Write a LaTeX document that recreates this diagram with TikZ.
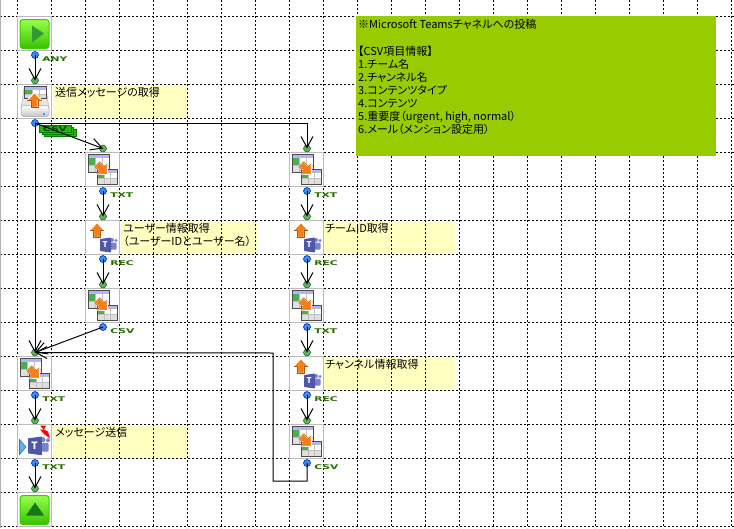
\documentclass[tikz,border=0pt]{standalone}
\usepackage{fontspec}
\setmainfont[RawFeature=+palt]{Noto Sans CJK JP}
\newfontfamily\tagfont{DejaVu Sans}
\usetikzlibrary{arrows.meta}
\definecolor{notey}{HTML}{FFFFC0}
\definecolor{noteg}{HTML}{99CC00}
\definecolor{taggreen}{HTML}{2A6A00}
\definecolor{frameg}{HTML}{BBBBBB}
\definecolor{orng}{HTML}{F57F17}
\definecolor{tpurple}{HTML}{4F57A8}
\definecolor{tlight}{HTML}{7B83C8}
\newcommand{\uparr}[3]{% x y rotation
  \filldraw[fill=orng,draw=white,line width=.9pt,line join=round,shift={(#1,#2)},rotate=#3,scale=1.12]
    (0,-7)--(6.5,0)--(3,0)--(3,6)--(-3,6)--(-3,0)--(-6.5,0)--cycle;
  \draw[orng!70!black,line width=.4pt,shift={(#1,#2)},rotate=#3,scale=1.12]
    (6.5,0)--(3,0)--(3,6)--(-3,6)--(-3,0)--(-6.5,0);}
\newcommand{\tbl}[4]{% x y w h
  \begin{scope}[shift={(#1,#2)}]
    \fill[white] (0,0) rectangle (#3,#4);
    \fill[green!55!black!70] (0,3) rectangle (.35*#3,.6*#4);
    \fill[blue!30] (0,0) rectangle (#3,3);
    \fill[gray!25] (0,.6*#4) rectangle (#3,#4);
    \draw[gray!50,line width=.35pt] (.35*#3,3)--(.35*#3,#4) (.68*#3,3)--(.68*#3,#4) (0,.6*#4)--(#3,.6*#4) (0,3)--(#3,3);
    \draw[gray!60!black,line width=1pt] (0,0) rectangle (#3,#4);
  \end{scope}}
\newcommand{\teamslogo}[3]{% x y scale
  \begin{scope}[shift={(#1,#2)},scale=#3]
    \fill[tlight,rounded corners=1pt] (8,5) rectangle (16.5,12);
    \fill[tlight] (12,2.5) circle (2) (16,3) circle (1.6);
    \fill[tpurple,rounded corners=.6pt] (0,1.5) -- (11,0) -- (11,15) -- (0,13.5) -- cycle;
    \node[text=white,font=\fontsize{8}{8}\selectfont\bfseries,inner sep=0pt,transform shape] at (5.3,7.5) {T};
  \end{scope}}
\tikzset{
  gridline/.style={black,line width=1pt,dash pattern=on 2pt off 2pt},
  cell/.style={draw=frameg,fill=white,line width=.8pt,minimum size=34pt,inner sep=0pt,outer sep=0pt},
  note/.style={fill=notey,anchor=north west,inner sep=0pt,minimum height=34pt},
  notetext/.style={anchor=north west,inner sep=0pt,align=left,font=\fontsize{11}{13}\selectfont},
  outport/.style={circle,draw=blue!55!black,fill=blue!55!cyan!80,line width=.5pt,minimum size=7pt,inner sep=0pt},
  inport/.style={circle,draw=green!40!black,fill=green!45!black!60,line width=.5pt,minimum size=7pt,inner sep=0pt},
  tagl/.style={anchor=west,inner sep=0pt,text=taggreen,font=\tagfont\fontsize{6.5}{7}\selectfont\bfseries,xscale=1.65},
  edge/.style={black,line width=1pt,-{Straight Barb[length=11pt,width=12pt,line width=1pt]}},
  pics/starticon/.style={code={
    \shade[top color=green!45!lime!70,bottom color=green!65!black!70!lime,draw=green!70!black!70!lime,line width=1pt,rounded corners=3pt] (3,3) rectangle (32,32);
    \fill[green!50!black!80] (15,9)--(27,17)--(15,26)--cycle;}},
  pics/endicon/.style={code={
    \shade[top color=green!45!lime!70,bottom color=green!65!black!70!lime,draw=green!70!black!70!lime,line width=1pt,rounded corners=3pt] (3,3) rectangle (32,32);
    \fill[green!40!black!90] (9,23)--(18,10)--(27,23)--cycle;}},
  pics/geticon/.style={code={
    \filldraw[fill=gray!20,draw=gray!60,line width=.5pt] (7,4)--(4,24)--(32,24)--(29,4)--cycle;
    \shade[top color=white,bottom color=gray!45,draw=gray!70,line width=.5pt,rounded corners=3pt] (4,21) rectangle (32,32);
    \fill[cyan] (26,28) rectangle (28,30);
    \tbl{7}{2}{22}{12}
    \uparr{17.5}{16}{0}}},
  pics/convicon/.style={code={
    \tbl{3}{2}{21}{18}
    \tbl{12}{17}{20}{15}
    \uparr{17}{16.5}{-135}}},
  pics/teamsget/.style={code={
    \uparr{12}{10}{0}
    \teamslogo{15}{17}{1}}},
  pics/teamssend/.style={code={
    \filldraw[fill=cyan!70!blue!60,draw=blue!50!cyan,line width=.6pt] (2.5,15)--(9,22.5)--(2.5,30)--cycle;
    \fill[red] (23,1)--(29,1)--(27,5)--(31,7)--(33,14)--(27,9.5)--(23,5)--(26.5,5)--cycle;
    \teamslogo{11}{12}{1.25}}}
}
\begin{document}
\begin{tikzpicture}[x=1pt,y=-1pt]
\useasboundingbox (0,0) rectangle (734,528);
\fill[white] (0,0) rectangle (734,528);
% comments under the grid
\node[note,minimum width=134pt] (n1) at (53,84.5) {};
\node[note,minimum width=136pt] (n2) at (121,220.5) {};
\node[note,minimum width=132pt] (n3) at (323,220.5) {};
\node[note,minimum width=132pt] (n4) at (323,356.5) {};
\node[note,minimum width=134pt] (n5) at (53,424.5) {};
% grid
\foreach \k in {0,...,21} \draw[gridline] ({17.5+34*\k},0) -- ({17.5+34*\k},528);
\foreach \k in {0,...,15} \draw[gridline] (0,{16.5+34*\k}) -- (734,{16.5+34*\k});
\draw[gray!60,line width=.8pt] (.4,0) -- (.4,528);
% green note
\node[fill=noteg,anchor=north west,inner sep=0pt,minimum width=360pt,minimum height=140pt] (memo) at (356,16) {};
\node[notetext] (memotext) at (358,19.5) {※Microsoft Teamsチャネルへの投稿\\[14pt]【CSV項目情報】\\1.チーム名\\2.チャンネル名\\3.コンテンツタイプ\\4.コンテンツ\\5.重要度（urgent, high, normal）\\6.メール（メンション設定用）};
% note texts
\node[notetext] (t1) at (55,87.5) {送信メッセージの取得};
\node[notetext] (t2) at (123,223.5) {ユーザー情報取得\\（ユーザーIDとユーザー名）};
\node[notetext] (t3) at (325,223.5) {チームID取得};
\node[notetext] (t4) at (325,359.5) {チャンネル情報取得};
\node[notetext] (t5) at (55,427.5) {メッセージ送信};
% cells
\foreach \nm/\cx/\cy in {start/34/33.5,get/34/101.5,cva/102/169.5,cvb/306/169.5,user/102/237.5,team/306/237.5,cvc/102/305.5,cvd/306/305.5,cve/34/373.5,chan/306/373.5,send/34/441.5,cvf/306/441.5,finish/34/509.5}
  \node[cell] (\nm) at (\cx,\cy) {};
\pic at (17,16.5) {starticon};
\pic at (17,84.5) {geticon};
\pic at (85,152.5) {convicon};
\pic at (289,152.5) {convicon};
\pic at (85,220.5) {teamsget};
\pic at (289,220.5) {teamsget};
\pic at (85,288.5) {convicon};
\pic at (289,288.5) {convicon};
\pic at (17,356.5) {convicon};
\pic at (289,356.5) {teamsget};
\pic at (17,424.5) {teamssend};
\pic at (289,424.5) {convicon};
\pic at (17,492.5) {endicon};
% ports
\foreach \nm/\px/\py in {start/35/55,get/35/123,cva/103/191,cvb/307/191,user/103/259,team/307/259,cvc/103/327,cvd/307/327,cve/35/395,chan/307/395,send/35/463,cvf/307/463}
  \node[outport] (o\nm) at (\px,\py) {};
\foreach \nm/\px/\py in {get/35/80.5,cva/103/148.5,cvb/307/148.5,user/103/216.5,team/307/216.5,cvc/103/284.5,cvd/307/284.5,cve/35/352.5,chan/307/352.5,send/35/420.5,cvf/307/420.5,finish/35/488.5}
  \node[inport] (i\nm) at (\px,\py) {};
% csv badge
\foreach \d in {2,1,0}
  \filldraw[fill=green!65!black!80!lime,draw=green!50!black,line width=.7pt] ({39.5+2.5*\d},{125+2*\d}) rectangle ({71+2.5*\d},{132.5+2*\d});
\node[tagl,text=green!25!black,anchor=center] (csvbadge) at (55,129.3) {CSV};
% tags
\foreach \nm/\lbl/\tx/\ty in {a/ANY/42/59,b/TXT/110/195,c/TXT/314/195,d/REC/110/263,e/REC/314/263,f/CSV/110/331,g/TXT/314/331,h/TXT/42/399,i/REC/314/399,j/TXT/42/467,k/CSV/314/467}
  \node[tagl] (tag\nm) at (\tx,\ty) {\lbl};
% connectors
\coordinate (c1) at (307,123);
\coordinate (c2) at (307,481);
\coordinate (c3) at (273,481);
\coordinate (c4) at (273,353);
\draw[edge] (ostart.center) -- (iget.center);
\draw[edge] (oget.center) -- (icva.center);
\draw[edge] (oget.center) -- (icve.center);
\draw[edge] (oget.center) -- (c1) -- (icvb.center);
\draw[edge] (ocva.center) -- (iuser.center);
\draw[edge] (ouser.center) -- (icvc.center);
\draw[edge] (ocvb.center) -- (iteam.center);
\draw[edge] (oteam.center) -- (icvd.center);
\draw[edge] (ocvd.center) -- (ichan.center);
\draw[edge] (ochan.center) -- (icvf.center);
\draw[edge] (ocvc.center) -- (icve.center);
\draw[edge] (ocvf.center) -- (c2) -- (c3) -- (c4) -- (icve.center);
\draw[edge] (ocve.center) -- (isend.center);
\draw[edge] (osend.center) -- (ifinish.center);
\end{tikzpicture}
\end{document}
